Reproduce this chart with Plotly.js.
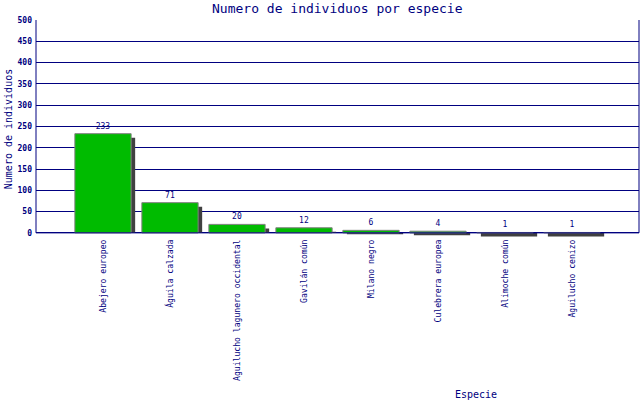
<!DOCTYPE html>
<html>
<head>
<meta charset="utf-8">
<script src="https://cdn.plot.ly/plotly-3.0.1.min.js"></script>
<style>
  html, body { margin: 0; padding: 0; background: #fff; }
  #chart { width: 640px; height: 400px; }
</style>
</head>
<body>
<div id="chart"></div>
<script>
// datos
let especies = [
    'Abejero europeo',
    'Águila calzada',
    'Aguilucho lagunero occidental',
    'Gavilán común',
    'Milano negro',
    'Culebrera europea',
    'Alimoche común',
    'Aguilucho cenizo'
];
let individuos = [233, 71, 20, 12, 6, 4, 1, 1];

let navy = '#000080';
let mono = 'DejaVu Sans Mono, monospace';
let yMax = 500;
let yMin = -12;          // deja ver la sombra bajo el eje
let sombraY = -9.4;      // ~4px hacia abajo
let ancho = 0.84;

// sombra: la barra desplazada 4px, cortada en el eje (si es muy baja queda colgando)
let sombra = {
    type: 'bar',
    x: especies,
    y: individuos.map(v => v + sombraY),
    base: 0,
    width: ancho,
    offset: -ancho / 2 + 0.06,
    marker: { color: '#404040', line: { width: 0 } },
    hoverinfo: 'skip',
    showlegend: false
};

// barras
let barras = {
    type: 'bar',
    x: especies,
    y: individuos,
    width: ancho,
    offset: -ancho / 2,
    marker: { color: '#00bb00', line: { color: '#808080', width: 1 } },
    text: individuos.map(String),
    textposition: 'outside',
    textfont: { family: mono, size: 8, color: navy },
    cliponaxis: false,
    showlegend: false
};

let layout = {
    width: 640,
    height: 400,
    paper_bgcolor: '#ffffff',
    plot_bgcolor: '#ffffff',
    barmode: 'overlay',
    margin: { l: 36, r: 1, t: 20, b: 162 },
    title: {
        text: 'Numero de individuos por especie',
        font: { family: mono, size: 13, color: navy },
        x: 0.527, xanchor: 'center',
        y: 0.978, yanchor: 'middle'
    },
    xaxis: {
        type: 'category',
        range: [-1, 8],
        tickangle: -90,
        tickfont: { family: mono, size: 8.1, color: navy },
        showline: false,
        showgrid: false,
        ticks: '',
        ticklabelstandoff: -1,
        fixedrange: true
    },
    yaxis: {
        range: [yMin, yMax],
        tick0: 0,
        dtick: 50,
        showgrid: true,
        gridcolor: navy,
        gridwidth: 1,
        zeroline: false,
        showline: false,
        ticks: '',
        ticklabelstandoff: 3,
        tickfont: { family: mono, size: 8, color: navy, weight: 'bold' },
        title: {
            text: 'Numero de individuos',
            font: { family: mono, size: 10, color: navy },
            standoff: 3
        },
        automargin: false,
        fixedrange: true
    },
    shapes: [
        { type: 'line', xref: 'paper', yref: 'y', x0: 0, x1: 0, y0: 0, y1: yMax, line: { color: navy, width: 1 } },
        { type: 'line', xref: 'paper', yref: 'y', x0: 1, x1: 1, y0: 0, y1: yMax, line: { color: navy, width: 1 } },
        { type: 'line', xref: 'paper', yref: 'y', x0: 0, x1: 1, y0: 0, y1: 0, line: { color: navy, width: 1 } }
    ],
    annotations: [
        {
            xref: 'paper', yref: 'paper',
            x: 0.73, y: -0.72,
            text: 'Especie',
            showarrow: false,
            xanchor: 'center', yanchor: 'middle',
            font: { family: mono, size: 10, color: navy }
        }
    ]
};

Plotly.newPlot('chart', [sombra, barras], layout, { displayModeBar: false, staticPlot: true });
</script>
</body>
</html>
